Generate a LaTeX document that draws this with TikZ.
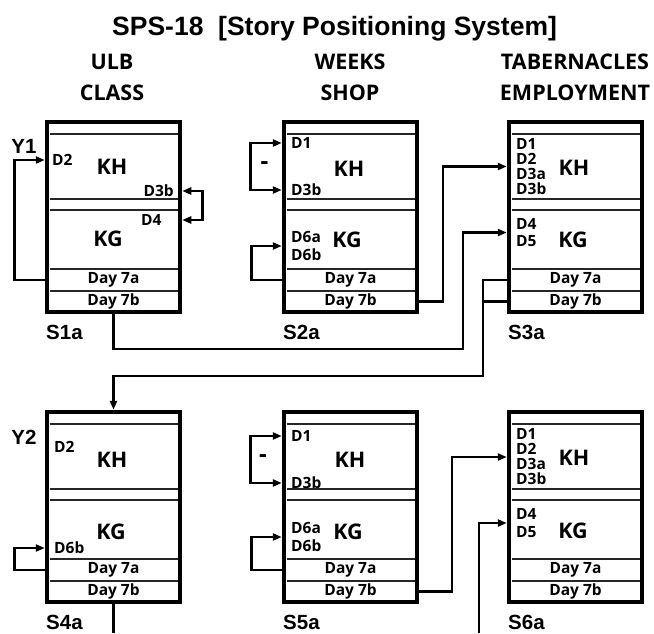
\documentclass[tikz,border=0pt]{standalone}
\usepackage{fontspec}
\newfontfamily\opensans{Open Sans}
\newfontfamily\arialsans{Liberation Sans}
\usetikzlibrary{arrows.meta}

\tikzset{
  box/.style={draw,line width=4.5pt,minimum width=133pt,minimum height=190pt,inner sep=0pt},
  cellline/.style={line width=1.2pt,black!85},
  dlbl/.style={font=\opensans\bfseries\fontsize{15.5}{15}\selectfont,inner sep=0pt,align=left},
  daylbl/.style={font=\opensans\bfseries\fontsize{15.5}{15}\selectfont,inner sep=0pt},
  unit/.style={font=\opensans\bfseries\fontsize{21.5}{24}\selectfont,inner sep=0pt},
  head/.style={font=\opensans\bfseries\fontsize{21.5}{31}\selectfont,align=center,inner sep=0pt},
  tag/.style={font=\arialsans\bfseries\fontsize{20.5}{24}\selectfont,inner sep=0pt},
  wire/.style={line width=2.6pt},
  link/.style={wire,-{Triangle[length=9pt,width=7pt]}},
  twolink/.style={wire,{Triangle[length=9pt,width=7pt]}-{Triangle[length=9pt,width=7pt]}},
}

\begin{document}
\begin{tikzpicture}[x=1pt,y=-1pt]
\useasboundingbox (0,0) rectangle (654,633);

% title and column heads
\node[font=\arialsans\bfseries\fontsize{26.5}{30}\selectfont,inner sep=0pt,anchor=base west] (title) at (112,35) {SPS-18\ \ [Story Positioning System]};
\node[head] (head1) at (112,77.5) {ULB\\CLASS};
\node[head] (head2) at (350,77.5) {WEEKS\\SHOP};
\node[head] (head3) at (575,77.5) {TABERNACLES\\EMPLOYMENT};

% boxes
\foreach \nm/\txt/\cx/\cy in {s1a/S1a/113.5/217, s2a/S2a/350.5/217, s3a/S3a/575.5/217,
                              s4a/S4a/113.5/507, s5a/S5a/350.5/507, s6a/S6a/575.5/507} {
  \node[box] (\nm) at (\cx,\cy) {};
  \foreach \dy in {-83,-18,-7,52,74}
    \draw[cellline] (\cx-64,\cy+\dy) -- (\cx+64,\cy+\dy);
  \node[daylbl] (\nm-7a) at (\cx,\cy+63) {Day 7a};
  \node[daylbl] (\nm-7b) at (\cx,\cy+84.5) {Day 7b};
  \node[tag,anchor=west] (\nm-tag) at (\cx-67.5,\cy+115) {\txt};
}

% S1a
\node[tag] (y1) at (24,146) {Y1};
\node[dlbl,anchor=west] (s1a-d2) at (52,160) {D2};
\node[unit] (s1a-kh) at (112,167) {KH};
\node[dlbl,anchor=east] (s1a-d3b) at (174,191) {D3b};
\node[dlbl,anchor=west] (s1a-d4) at (141,220) {D4};
\node[unit] (s1a-kg) at (108,239) {KG};

% S2a
\node[unit,font=\opensans\bfseries\fontsize{24}{24}\selectfont] (s2a-minus) at (264.5,166) {-};
\node[dlbl,anchor=west] (s2a-d1) at (291,143) {D1};
\node[dlbl,anchor=west] (s2a-d3b) at (291,190) {D3b};
\node[unit] (s2a-kh) at (349,169) {KH};
\node[dlbl,anchor=west] (s2a-d6) at (291,246) {D6a\\[3pt]D6b};
\node[unit] (s2a-kg) at (347,240) {KG};

% S3a
\node[dlbl,anchor=west] (s3a-dk) at (516,166.5) {D1\\D2\\D3a\\D3b};
\node[unit] (s3a-kh) at (574,168) {KH};
\node[dlbl,anchor=west] (s3a-d45) at (516,232.5) {D4\\[2.5pt]D5};
\node[unit] (s3a-kg) at (573,240) {KG};

% S4a
\node[tag] (y2) at (24,437) {Y2};
\node[dlbl,anchor=west] (s4a-d2) at (54,447) {D2};
\node[unit] (s4a-kh) at (112,460) {KH};
\node[unit] (s4a-kg) at (111,532) {KG};
\node[dlbl,anchor=west] (s4a-d6b) at (54,548) {D6b};

% S5a
\node[unit,font=\opensans\bfseries\fontsize{24}{24}\selectfont] (s5a-minus) at (263,459) {-};
\node[dlbl,anchor=west] (s5a-d1) at (291,436) {D1};
\node[dlbl,anchor=west] (s5a-d3b) at (291,483) {D3b};
\node[unit] (s5a-kh) at (350,460) {KH};
\node[dlbl,anchor=west] (s5a-d6) at (291,537) {D6a\\[3pt]D6b};
\node[unit] (s5a-kg) at (348,532) {KG};

% S6a
\node[dlbl,anchor=west] (s6a-dk) at (516,457) {D1\\D2\\D3a\\D3b};
\node[unit] (s6a-kh) at (574,458) {KH};
\node[dlbl,anchor=west] (s6a-d45) at (516,523) {D4\\[2.5pt]D5};
\node[unit] (s6a-kg) at (573,531) {KG};

% turn points
\coordinate (turnA) at (463,349);
\coordinate (trackB) at (443,0);
\coordinate (turnC) at (483,376);
\coordinate (trackD) at (452,0);
\coordinate (fromE) at (479,633);
\coordinate (toF) at (113.5,633);

% loops
\draw[link] (s1a.west |- s1a-7a) -- ++(-30.5,0) |- (s1a.west |- s1a-d2);
\draw[twolink] (s1a.east |- s1a-d3b) -- ++(20.5,0) |- (s1a.east |- s1a-d4);
\draw[twolink] (s2a.west |- s2a-d1) -- ++(-31,0) |- (s2a.west |- s2a-d3b);
\draw[link] (s2a.west |- s2a-7a) -- ++(-30,0) |- (s2a.west |- s2a-d6);
\draw[link] (s4a.west |- s4a-7a) -- ++(-30.5,0) |- (s4a.west |- s4a-d6b);
\draw[twolink] (s5a.west |- s5a-d1) -- ++(-31,0) |- (s5a.west |- s5a-d3b);
\draw[link] (s5a.west |- s5a-7a) -- ++(-30,0) |- (s5a.west |- s5a-d6);

% between boxes
\draw[link] (s1a.south) |- (turnA) |- (s3a.west |- s3a-d45);
\draw[link] (s2a.east |- s2a-7b) -| (trackB |- s3a-dk) -- (s3a.west |- s3a-dk);
\draw[link] (s3a.west |- s3a-7a) -| (turnC) -| (s4a.north);
\draw[wire] (s3a.west |- s3a-7b) -- (turnC |- s3a-7b);
\draw[link] (s5a.east |- s5a-7b) -| (trackD |- s6a-dk) -- (s6a.west |- s6a-dk);
\draw[link] (fromE) |- (s6a.west |- s6a-d45);
\draw[wire] (s4a.south) -- (toF);
\end{tikzpicture}
\end{document}
